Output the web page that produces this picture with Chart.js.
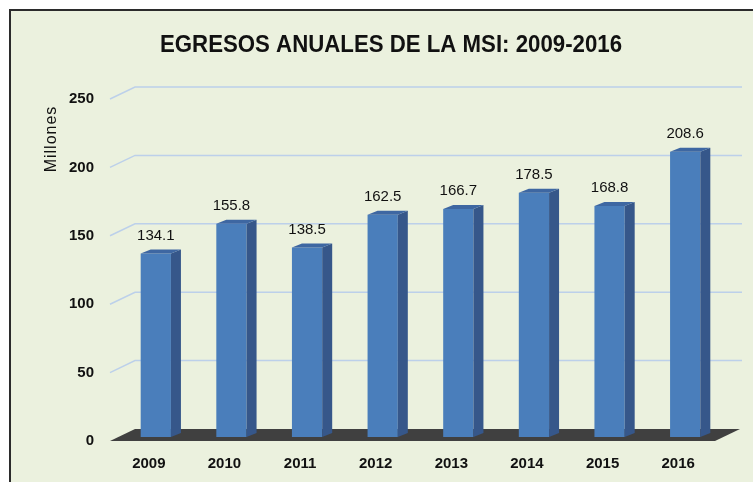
<!DOCTYPE html>
<html>
<head>
<meta charset="utf-8">
<script src="https://cdn.jsdelivr.net/npm/chart.js@4.4.1/dist/chart.umd.min.js"></script>
<style>
  html, body { margin: 0; padding: 0; overflow: hidden; background: #ffffff; }
  #frame {
    position: fixed; left: 9px; top: 9px; right: 0; bottom: 0;
    border-top: 2px solid #2b2b2b; border-left: 2px solid #2b2b2b;
    background: #ebf1de;
  }
  #wrap { position: absolute; left: 0; top: 0; width: 753px; height: 482px; }
</style>
</head>
<body>
<div id="frame"></div>
<div id="wrap"><canvas id="myChart" width="753" height="482"></canvas></div>
<script>
// chart data
let years = ["2009", "2010", "2011", "2012", "2013", "2014", "2015", "2016"];
let egresos = [134.1, 155.8, 138.5, 162.5, 166.7, 178.5, 168.8, 208.6];
let yTicks = [0, 50, 100, 150, 200, 250];
let chartTitle = "EGRESOS ANUALES DE LA MSI: 2009-2016";
let yAxisTitle = "Millones";

// fake 3d look: back wall, floor, bar sides and tops
let threeD = {
  id: "threeD",
  beforeDatasetsDraw(chart) {
    let ctx = chart.ctx;
    let area = chart.chartArea;
    let yScale = chart.scales.y;
    ctx.save();
    ctx.strokeStyle = "#bcd0ea";
    ctx.lineWidth = 1.5;
    yScale.ticks.forEach(t => {
      if (t.value === 0) return;
      let py = yScale.getPixelForValue(t.value);
      ctx.beginPath();
      ctx.moveTo(area.left - 8, py + 4);
      ctx.lineTo(area.left + 17, py - 8);
      ctx.lineTo(area.right + 19, py - 8);
      ctx.stroke();
    });
    let py0 = yScale.getPixelForValue(0);
    ctx.fillStyle = "#404040";
    ctx.beginPath();
    ctx.moveTo(area.left - 8, py0 + 4);
    ctx.lineTo(area.left + 17, py0 - 8);
    ctx.lineTo(area.right + 17, py0 - 8);
    ctx.lineTo(area.right - 8, py0 + 4);
    ctx.closePath();
    ctx.fill();
    ctx.restore();
  },
  afterDatasetsDraw(chart) {
    let ctx = chart.ctx;
    let meta = chart.getDatasetMeta(0);
    ctx.save();
    meta.data.forEach((bar, i) => {
      let half = bar.width / 2;
      // side
      ctx.fillStyle = "#36578a";
      ctx.beginPath();
      ctx.moveTo(bar.x + half, bar.y);
      ctx.lineTo(bar.x + half + 10, bar.y - 4);
      ctx.lineTo(bar.x + half + 10, bar.base - 4);
      ctx.lineTo(bar.x + half, bar.base);
      ctx.closePath();
      ctx.fill();
      // top
      ctx.fillStyle = "#3e67a2";
      ctx.beginPath();
      ctx.moveTo(bar.x - half, bar.y);
      ctx.lineTo(bar.x - half + 10, bar.y - 4);
      ctx.lineTo(bar.x + half + 10, bar.y - 4);
      ctx.lineTo(bar.x + half, bar.y);
      ctx.closePath();
      ctx.fill();
      // value label
      ctx.fillStyle = "#111111";
      ctx.font = "15px 'Liberation Sans'";
      ctx.textAlign = "center";
      ctx.textBaseline = "middle";
      ctx.fillText(egresos[i].toFixed(1), bar.x, bar.y - 18);
    });
    ctx.restore();
  },
  afterDraw(chart) {
    let ctx = chart.ctx;
    ctx.save();
    ctx.fillStyle = "#111111";
    ctx.textAlign = "center";
    ctx.textBaseline = "middle";
    // title, squeezed a bit to look like the narrow original font
    ctx.font = "bold 24px 'Liberation Sans'";
    let w = ctx.measureText(chartTitle).width;
    let sx = Math.min(1, 462 / w);
    ctx.save();
    ctx.translate(391, 45);
    ctx.scale(sx, 1);
    ctx.fillText(chartTitle, 0, 0);
    ctx.restore();
    ctx.translate(52, 139);
    ctx.rotate(-Math.PI / 2);
    ctx.font = "16px 'Liberation Sans'";
    ctx.letterSpacing = "1px";
    ctx.fillText(yAxisTitle, 0, 0);
    ctx.restore();
  }
};

function drawChart() {
  let ctx = document.getElementById("myChart").getContext("2d");
  let chart = new Chart(ctx, {
    type: "bar",
    data: {
      labels: years,
      datasets: [
        {
          data: egresos,
          backgroundColor: "#4a7ebb",
          borderWidth: 0,
          barPercentage: 0.4,
          categoryPercentage: 1
        }
      ]
    },
    options: {
      responsive: false,
      devicePixelRatio: 1,
      animation: false,
      layout: { padding: { left: 0, top: 95, right: 30, bottom: 0 } },
      plugins: {
        legend: { display: false },
        tooltip: { enabled: false }
      },
      scales: {
        x: {
          offset: true,
          grid: { display: false, drawTicks: false },
          border: { display: false },
          ticks: {
            color: "#111111",
            font: { family: "Liberation Sans", size: 15, weight: "bold" },
            padding: 18,
            labelOffset: -7
          },
          afterFit: scale => { scale.height = 45; }
        },
        y: {
          min: 0,
          max: 250,
          grid: { display: false, drawTicks: false },
          border: { display: false },
          afterBuildTicks: scale => { scale.ticks = yTicks.map(v => ({ value: v })); },
          ticks: {
            color: "#111111",
            font: { family: "Liberation Sans", size: 15, weight: "bold" },
            padding: 24,
            labelOffset: 4
          },
          afterFit: scale => { scale.width = 118; }
        }
      }
    },
    plugins: [threeD]
  });
}
drawChart();
</script>
</body>
</html>
